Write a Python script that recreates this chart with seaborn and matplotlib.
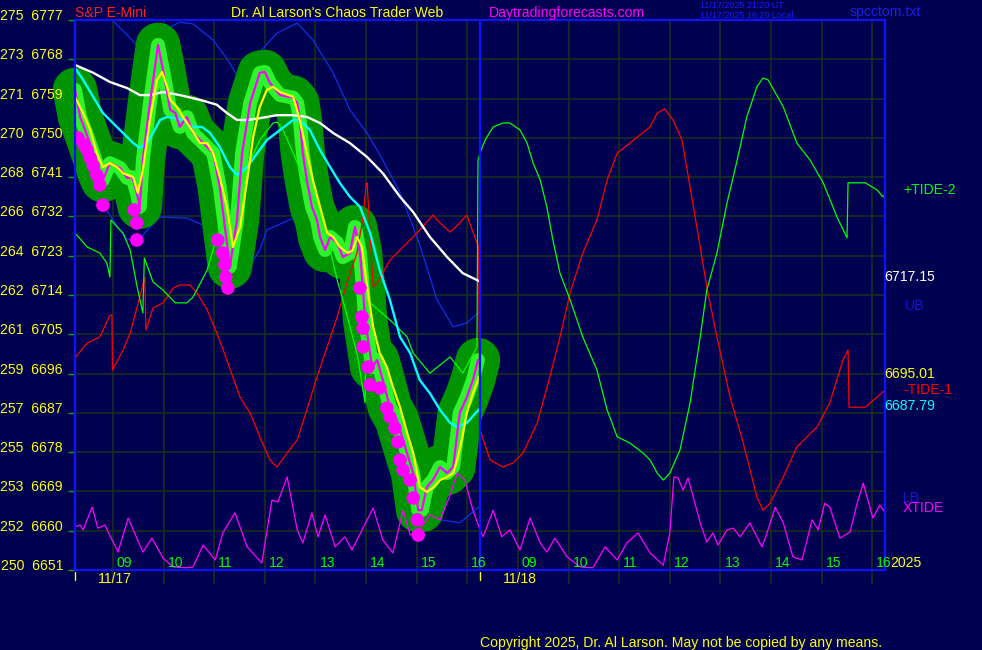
import seaborn as sns
import matplotlib.pyplot as plt
import matplotlib.transforms as mtransforms

# x axis is session hours: 0 = 08:15 on 11/17, 8 = 16:15 (next session starts), 16 = 16:15 on 11/18

# fast average (magenta) - also the centre of the price band
fast_h = [0.00, 0.10, 0.20, 0.36, 0.49, 0.55, 0.69, 0.89, 1.03, 1.13, 1.22, 1.28, 1.34, 1.48, 1.64, 1.74, 1.88,
          1.98, 2.07, 2.21, 2.33, 2.47, 2.61, 2.73, 2.86, 2.96, 3.06, 3.20, 3.30, 3.46, 3.65, 3.75, 3.85, 4.05,
          4.31, 4.39, 4.44, 4.50, 4.58, 4.68, 4.78, 4.84, 4.94, 5.04, 5.18, 5.29, 5.43, 5.53, 5.63, 5.69, 5.73,
          5.79, 5.87, 5.97, 6.08, 6.22, 6.36, 6.48, 6.58, 6.68, 6.78, 6.85, 6.95, 7.07, 7.21, 7.35, 7.47, 7.60,
          7.74, 7.86, 7.96]
fast_p = [6761.0, 6754.8, 6751.8, 6746.5, 6741.9, 6740.3, 6744.2, 6743.1, 6740.8, 6741.0, 6737.4, 6734.2, 6744.9,
          6758.0, 6771.3, 6765.5, 6756.4, 6755.7, 6752.5, 6754.8, 6751.1, 6749.5, 6747.9, 6746.5, 6738.7, 6729.6,
          6720.5, 6731.2, 6746.5, 6758.0, 6764.9, 6765.1, 6762.6, 6759.8, 6759.2, 6758.0, 6754.1, 6746.5, 6740.3,
          6734.2, 6731.2, 6727.3, 6724.3, 6727.3, 6725.9, 6722.7, 6723.6, 6729.6, 6723.6, 6715.1, 6708.3, 6703.7,
          6697.5, 6699.1, 6694.5, 6688.3, 6685.4, 6680.8, 6676.9, 6673.2, 6664.7, 6664.7, 6670.0, 6671.6, 6674.6,
          6673.2, 6674.6, 6687.0, 6690.6, 6694.5, 6699.1]

# yellow average
yel_h = [0.00, 0.16, 0.30, 0.43, 0.55, 0.69, 0.83, 0.95, 1.15, 1.24, 1.34, 1.48, 1.62, 1.72, 1.82, 1.88, 2.01,
         2.13, 2.27, 2.47, 2.61, 2.73, 2.86, 3.00, 3.12, 3.26, 3.40, 3.52, 3.65, 3.79, 3.91, 4.05, 4.31, 4.44,
         4.58, 4.70, 4.84, 4.98, 5.10, 5.23, 5.39, 5.49, 5.57, 5.67, 5.77, 5.89, 6.02, 6.16, 6.28, 6.42, 6.56,
         6.68, 6.81, 6.95, 7.07, 7.21, 7.35, 7.47, 7.55, 7.64, 7.74, 7.86, 7.98]
yel_p = [6759.4, 6755.7, 6751.8, 6746.5, 6743.3, 6744.2, 6743.3, 6741.9, 6741.0, 6737.4, 6742.6, 6754.1, 6763.3,
         6765.1, 6761.7, 6758.7, 6757.1, 6754.8, 6752.5, 6748.8, 6748.8, 6746.5, 6741.0, 6734.2, 6725.0, 6729.6,
         6740.3, 6750.2, 6757.1, 6761.0, 6761.7, 6760.5, 6759.4, 6754.1, 6746.5, 6740.3, 6734.2, 6728.2, 6727.3,
         6725.0, 6723.6, 6724.3, 6727.3, 6725.0, 6715.8, 6706.7, 6700.7, 6697.5, 6692.9, 6688.3, 6682.4, 6677.8,
         6670.0, 6668.9, 6669.8, 6671.6, 6672.3, 6673.2, 6676.2, 6680.8, 6687.0, 6691.5, 6695.2]

# cyan average
cyan_h = [0.00, 0.16, 0.36, 0.55, 0.75, 0.95, 1.15, 1.28, 1.42, 1.54, 1.68, 1.82, 1.98, 2.13, 2.33, 2.51, 2.67,
          2.86, 3.06, 3.20, 3.40, 3.60, 3.79, 4.05, 4.31, 4.44, 4.64, 4.84, 5.04, 5.23, 5.43, 5.63, 5.83, 6.02,
          6.22, 6.42, 6.62, 6.81, 7.01, 7.21, 7.41, 7.55, 7.74, 7.98]
cyan_p = [6766.0, 6763.3, 6759.4, 6755.7, 6753.4, 6751.1, 6748.8, 6747.7, 6748.8, 6751.1, 6754.1, 6754.8, 6754.5,
          6754.1, 6752.5, 6752.5, 6751.1, 6747.9, 6743.3, 6741.5, 6743.3, 6746.5, 6749.5, 6751.8, 6754.1, 6754.1,
          6751.8, 6747.2, 6743.3, 6739.7, 6736.5, 6734.2, 6728.2, 6719.7, 6712.9, 6704.4, 6700.7, 6694.5, 6691.5,
          6687.7, 6684.7, 6683.8, 6684.7, 6687.8]

# white average
white_h = [0.00, 0.36, 0.69, 1.03, 1.28, 1.48, 1.74, 2.07, 2.47, 2.80, 3.00, 3.20, 3.40, 3.65, 3.99, 4.31, 4.58,
           4.84, 5.10, 5.43, 5.77, 6.08, 6.42, 6.68, 7.01, 7.35, 7.66, 7.98]
white_p = [6766.7, 6764.9, 6762.8, 6761.4, 6759.8, 6759.8, 6760.5, 6759.8, 6758.7, 6757.6, 6755.7, 6754.1, 6754.1,
           6754.5, 6755.2, 6755.2, 6754.8, 6753.4, 6751.1, 6748.8, 6745.6, 6741.9, 6736.5, 6733.0, 6727.3, 6722.7,
           6719.0, 6717.2]

# upper / lower bands
ub_h = [0.49, 0.75, 1.03, 1.22, 1.42, 1.68, 2.07, 2.33, 2.73, 3.02, 3.22, 3.40, 3.65, 3.99, 4.39, 4.70, 5.10,
        5.43, 5.77, 6.08, 6.42, 6.68, 6.81, 7.15, 7.47, 7.74, 7.98]
ub_p = [6779.7, 6776.8, 6773.6, 6771.3, 6771.7, 6774.2, 6776.5, 6776.1, 6772.4, 6767.8, 6763.9, 6765.1, 6769.7,
        6774.0, 6776.3, 6772.4, 6764.9, 6756.4, 6751.1, 6744.9, 6737.4, 6729.6, 6725.5, 6712.9, 6706.7, 6707.6,
        6710.1]
lb_h = [0.00, 0.36, 0.69, 0.99, 1.22, 1.48, 1.68, 2.21, 2.61, 2.96, 3.20, 3.40, 3.65, 3.79, 4.31, 4.50, 4.84,
        5.23, 5.63, 6.02, 6.42, 6.81, 7.21, 7.60, 7.98]
lb_p = [6743.8, 6738.1, 6732.3, 6727.1, 6725.9, 6729.6, 6731.9, 6731.6, 6729.6, 6723.2, 6719.3, 6719.7, 6724.3,
        6728.9, 6731.6, 6730.7, 6726.6, 6718.6, 6711.7, 6699.1, 6683.1, 6667.7, 6662.5, 6661.8, 6665.4]

# -TIDE-1 (red)
red_h = [0.00, 0.24, 0.49, 0.69, 0.73, 0.74, 0.95, 1.09, 1.28, 1.38, 1.40, 1.54, 1.74, 1.94, 2.07, 2.27, 2.41,
         2.61, 2.80, 3.00, 3.26, 3.46, 3.65, 3.85, 3.99, 4.19, 4.39, 4.58, 4.78, 4.98, 5.18, 5.37, 5.57, 5.69,
         5.75, 5.77, 5.89, 5.97, 6.22, 6.56, 6.81, 7.07, 7.21, 7.41, 7.60, 7.74, 7.94, 7.97, 8.00, 8.20, 8.45,
         8.65, 8.85, 9.13, 9.38, 9.58, 9.78, 10.03, 10.31, 10.51, 10.71, 10.96, 11.36, 11.50, 11.65, 11.81,
         11.99, 12.15, 12.35, 12.48, 12.68, 12.94, 13.20, 13.47, 13.59, 13.73, 13.99, 14.26, 14.66, 14.91,
         15.17, 15.27, 15.29, 15.61, 15.96, 16.00]
red_p = [6699.6, 6703.0, 6704.4, 6709.4, 6709.4, 6696.8, 6701.4, 6705.3, 6713.5, 6718.1, 6706.0, 6711.0, 6712.2,
         6715.6, 6716.3, 6716.3, 6714.5, 6710.6, 6705.3, 6699.1, 6690.6, 6687.0, 6681.5, 6676.2, 6674.6, 6677.8,
         6680.8, 6687.7, 6695.2, 6702.1, 6709.0, 6716.7, 6723.6, 6731.9, 6739.2, 6739.7, 6715.8, 6716.7, 6722.0,
         6725.9, 6728.9, 6732.3, 6730.5, 6728.4, 6730.5, 6732.3, 6725.9, 6725.5, 6683.1, 6676.2, 6674.6, 6675.5,
         6677.8, 6684.7, 6695.2, 6704.4, 6714.5, 6723.6, 6731.2, 6740.3, 6746.5, 6748.8, 6752.5, 6755.7, 6756.6,
         6754.1, 6749.5, 6738.7, 6725.0, 6715.8, 6704.4, 6690.6, 6680.1, 6667.7, 6664.7, 6666.3, 6672.3, 6679.2,
         6683.8, 6689.3, 6699.1, 6701.4, 6688.3, 6688.3, 6691.8, 6692.2]

# +TIDE-2 (green)
grn_h = [0.00, 0.24, 0.49, 0.63, 0.69, 0.71, 0.83, 0.95, 1.09, 1.22, 1.34, 1.37, 1.54, 1.74, 1.98, 2.21, 2.33,
         2.61, 2.80, 3.12, 3.40, 3.65, 3.91, 3.99, 4.11, 4.31, 4.50, 4.78, 4.98, 5.18, 5.29, 5.57, 5.73, 5.75,
         5.83, 6.22, 6.56, 6.68, 7.01, 7.41, 7.66, 7.94, 7.96, 8.00, 8.10, 8.26, 8.45, 8.59, 8.79, 8.93, 9.05,
         9.19, 9.32, 9.44, 9.58, 9.78, 10.03, 10.31, 10.51, 10.71, 10.96, 11.22, 11.36, 11.50, 11.62, 11.75,
         11.95, 12.15, 12.35, 12.48, 12.68, 12.88, 13.08, 13.27, 13.47, 13.59, 13.69, 13.99, 14.26, 14.52,
         14.78, 15.05, 15.25, 15.27, 15.61, 15.84, 15.96, 16.00]
grn_p = [6728.2, 6725.0, 6723.6, 6721.3, 6718.1, 6731.2, 6729.6, 6728.2, 6724.3, 6716.3, 6709.9, 6722.5, 6717.0,
         6715.1, 6712.2, 6712.2, 6713.5, 6719.7, 6727.3, 6734.2, 6743.3, 6749.5, 6753.4, 6753.6, 6751.8, 6746.5,
         6741.0, 6734.2, 6727.3, 6717.4, 6712.9, 6700.7, 6689.3, 6712.2, 6712.2, 6708.3, 6704.4, 6700.7, 6696.1,
         6699.8, 6696.1, 6702.1, 6744.9, 6746.5, 6749.5, 6752.5, 6753.4, 6753.4, 6751.8, 6748.8, 6744.2, 6740.3,
         6734.2, 6726.6, 6719.0, 6712.9, 6704.4, 6696.8, 6687.7, 6681.5, 6680.1, 6677.8, 6676.2, 6673.2, 6671.6,
         6673.2, 6678.5, 6689.3, 6704.4, 6715.1, 6723.6, 6735.1, 6744.9, 6754.8, 6761.7, 6763.7, 6763.3, 6757.1,
         6748.8, 6744.9, 6739.7, 6731.9, 6727.1, 6739.7, 6739.7, 6738.1, 6736.5, 6737.0]

# XTIDE (magenta, bottom)
xt_h = [0.00, 0.10, 0.16, 0.34, 0.45, 0.59, 0.85, 1.05, 1.34, 1.52, 1.74, 1.94, 2.21, 2.33, 2.53, 2.77, 2.92,
        3.16, 3.40, 3.69, 3.89, 4.01, 4.19, 4.39, 4.50, 4.68, 4.80, 4.94, 5.14, 5.33, 5.47, 5.89, 6.08, 6.28,
        6.48, 6.62, 6.81, 7.01, 7.21, 7.41, 7.55, 7.70, 7.86, 8.00, 8.06, 8.26, 8.43, 8.59, 8.79, 8.99, 9.19,
        9.32, 9.48, 9.72, 9.98, 10.23, 10.47, 10.71, 10.90, 11.12, 11.36, 11.62, 11.75, 11.83, 11.91, 12.01,
        12.11, 12.35, 12.48, 12.60, 12.70, 12.88, 13.00, 13.14, 13.33, 13.57, 13.67, 13.83, 13.99, 14.18,
        14.36, 14.56, 14.68, 14.81, 14.91, 15.11, 15.31, 15.45, 15.57, 15.76, 15.90, 16.00]
xt_p = [6660.9, 6661.3, 6660.2, 6665.4, 6660.6, 6661.3, 6655.1, 6662.9, 6655.1, 6658.3, 6653.7, 6651.7, 6651.5,
        6651.7, 6656.7, 6653.3, 6659.5, 6664.1, 6656.3, 6652.6, 6667.0, 6666.6, 6672.3, 6660.2, 6657.2, 6664.1,
        6658.6, 6663.6, 6656.3, 6658.6, 6655.6, 6665.2, 6657.9, 6654.9, 6664.7, 6659.0, 6660.2, 6663.6, 6662.5,
        6668.2, 6673.2, 6671.6, 6664.7, 6660.2, 6658.6, 6664.7, 6658.6, 6660.2, 6655.6, 6662.9, 6657.2, 6655.1,
        6658.3, 6654.0, 6651.7, 6651.5, 6656.3, 6653.3, 6657.2, 6659.5, 6654.9, 6652.1, 6659.5, 6672.3, 6672.1,
        6669.3, 6672.1, 6661.8, 6657.4, 6659.5, 6656.7, 6660.2, 6660.6, 6658.6, 6661.8, 6656.3, 6659.5, 6665.4,
        6661.8, 6654.0, 6653.3, 6662.5, 6660.2, 6666.3, 6665.4, 6658.3, 6659.7, 6666.3, 6670.9, 6662.9, 6665.9,
        6664.1]

# magenta signal dots
dot_h = [0.06, 0.18, 0.24, 0.30, 0.36, 0.43, 0.49, 0.55, 1.17, 1.22, 1.22, 2.82, 2.92, 2.96, 2.98, 3.02, 5.63,
         5.67, 5.69, 5.69, 5.79, 5.83, 6.02, 6.16, 6.22, 6.32, 6.38, 6.42, 6.48, 6.62, 6.68, 6.76, 6.78]
dot_p = [6750.0, 6748.4, 6747.2, 6745.4, 6743.6, 6741.5, 6739.2, 6734.6, 6733.5, 6730.5, 6726.6, 6726.6, 6723.6,
         6720.9, 6718.1, 6715.6, 6715.6, 6709.0, 6706.4, 6702.1, 6697.5, 6693.4, 6692.7, 6688.1, 6686.1, 6683.5,
         6680.3, 6676.2, 6673.9, 6671.6, 6667.5, 6662.5, 6659.0]

# axis labels
price_levels = [6651, 6660, 6669, 6678, 6687, 6696, 6705, 6714, 6723, 6732, 6741, 6750, 6759, 6768, 6777]
left_scale = [250, 252, 253, 255, 257, 259, 261, 262, 264, 266, 268, 270, 271, 273, 275]
hour_pos = [0.75, 1.75, 2.75, 3.75, 4.75, 5.75, 6.75, 7.75, 8.75, 9.75, 10.75, 11.75, 12.75, 13.75, 14.75, 15.75]
hour_lbl = ["09", "10", "11", "12", "13", "14", "15", "16"] * 2
day_pos = [0, 8]
day_lbl = ["11/17", "11/18"]

BG = "#000050"
GRID = "#183418"
FRAME = "#0a14ff"
BAND = "#0a32e6"
FS = 10.1

sns.set_style("dark", {"axes.facecolor": BG, "figure.facecolor": BG})
plt.rcParams["font.family"] = ["Liberation Sans", "DejaVu Sans"]
plt.rcParams["font.size"] = FS

W, H = 982, 650
fig = plt.figure(figsize=(W / 100, H / 100), dpi=100, facecolor=BG)
ax = fig.add_axes([75 / W, 80 / H, 810 / W, 550 / H])
ax.set_facecolor(BG)


def line(x, y, color, lw, z, **kw):
    sns.lineplot(x=x, y=y, ax=ax, color=color, lw=lw, sort=False, estimator=None, zorder=z, **kw)


# price band: dark halo + bright bars
line(fast_h, fast_p, "#009400", 32, 2, solid_capstyle="round", solid_joinstyle="round", clip_on=False)
line(fast_h, fast_p, "#2cf52c", 10, 2.5, solid_joinstyle="round", solid_capstyle="round")

line(ub_h, ub_p, BAND, 0.9, 1.5)
line(lb_h, lb_p, BAND, 0.9, 1.5)
line(red_h, red_p, "#ff0000", 0.9, 3)
line(grn_h, grn_p, "#00ff00", 0.9, 3)
line(xt_h, xt_p, "#ff00ff", 0.9, 3)
line(white_h, white_p, "#ffffff", 1.7, 4)
line(cyan_h, cyan_p, "#00ffff", 1.7, 4)
line(fast_h, fast_p, "#ff00ff", 1.6, 5)
line(yel_h, yel_p, "#ffff00", 1.6, 5.5)
sns.scatterplot(x=dot_h, y=dot_p, ax=ax, s=95, color="#ff00ff", edgecolor="none", zorder=6)

ax.axvline(8, color=FRAME, lw=1.6, zorder=7)

ax.set_xlim(0, 16)
ax.set_ylim(6651, 6777)
ax.set_xticks(hour_pos)
ax.set_yticks(price_levels)
ax.set_xticklabels([])
ax.set_yticklabels([])
ax.grid(True, color=GRID, lw=1.1)
ax.tick_params(axis="x", direction="out", length=10, width=1.1, color=GRID, bottom=True)
ax.tick_params(axis="y", direction="out", length=5, width=1, color="#00b000", left=True)
ax.set_xlabel("")
ax.set_ylabel("")
for s in ax.spines.values():
    s.set_color(FRAME)
    s.set_linewidth(1.6)
    s.set_zorder(7)

# price scale labels
ytrans = mtransforms.offset_copy(mtransforms.blended_transform_factory(ax.transAxes, ax.transData),
                                 fig=fig, x=-12, y=4, units="dots")
for lvl, a in zip(price_levels, left_scale):
    ax.text(0, lvl, f"{a}  {lvl}", transform=ytrans, ha="right", va="center", color="#ffff00", clip_on=False)

# hour labels
xtrans = mtransforms.offset_copy(mtransforms.blended_transform_factory(ax.transData, ax.transAxes),
                                 fig=fig, x=4, y=0, units="dots")
for h, t in zip(hour_pos, hour_lbl):
    ax.text(h, 0, t, transform=xtrans, ha="left", va="bottom", color="#00ff00", clip_on=False, zorder=8)

dtrans = mtransforms.offset_copy(mtransforms.blended_transform_factory(ax.transData, ax.transAxes),
                                 fig=fig, x=23, y=-9, units="dots")
ttrans = mtransforms.blended_transform_factory(ax.transData, ax.transAxes)
for d, t in zip(day_pos, day_lbl):
    ax.text(d, 0, t, transform=dtrans, ha="left", va="center", color="#ffff00", clip_on=False)
    ax.plot([d, d], [-0.004, -0.018], transform=ttrans, color="#ffff00", lw=1, clip_on=False)


def ftext(px, py, s, color, size=FS, ha="left"):
    fig.text(px / W, 1 - py / H, s, color=color, fontsize=size, ha=ha, va="center")


ftext(75, 13, "S&P E-Mini", "#ff2020")
ftext(231, 13, "Dr. Al Larson's Chaos Trader Web", "#ffff00")
ftext(489, 13, "Daytradingforecasts.com", "#ff00ff")
ftext(700, 5, "11/17/2025 21:20 UT", "#1a1aff", size=6.4)
ftext(700, 15, "11/17/2025 16:20 Local", "#1a1aff", size=6.4)
ftext(850, 12, "spcctom.txt", "#1e1ee6")

ftext(903, 190, "+TIDE-2", "#00ff00")
ftext(884, 277, "6717.15", "#ffffff")
ftext(905, 306, "UB", "#1414dc")
ftext(884, 374, "6695.01", "#ffff00")
ftext(903, 390, "-TIDE-1", "#ff0000")
ftext(884, 406, "6687.79", "#00ffff")
ftext(903, 498, "LB", "#1414dc")
ftext(903, 508, "XTIDE", "#ff00ff")
ftext(890, 563, "2025", "#ffff00")
ftext(480, 643, "Copyright 2025, Dr. Al Larson. May not be copied by any means.", "#ffff00")

plt.savefig("out.png", dpi=100, facecolor=BG)
